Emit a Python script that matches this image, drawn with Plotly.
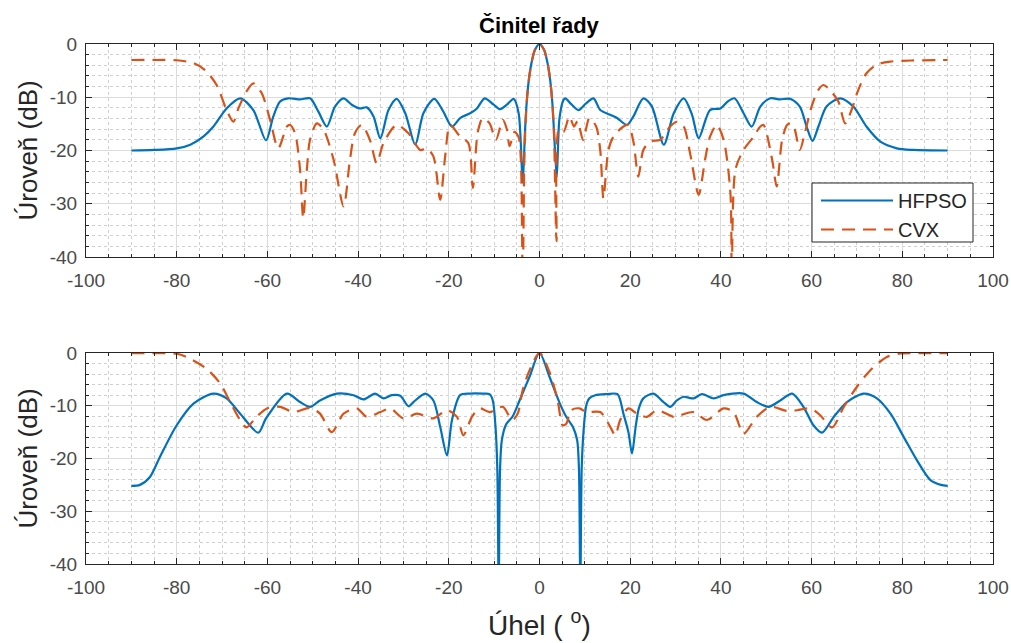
import plotly.graph_objects as go

# ---------------- data: array factor (dB) vs angle (deg) ----------------
# upper panel
top_hfpso_x = [-90, -85, -80, -77, -74, -71.9, -69, -66, -63.1, -60.3, -58.7, -57.2, -55.4, -52.8,
               -50.6, -48.75, -46.9, -45.1, -43.2, -41.4, -39.6, -38.1, -36.6, -35.1, -33.3, -31.5,
               -29.6, -27.4, -25.6, -23.2, -21.2, -19.3, -17.5, -15.3, -13.8, -12.1, -10.1, -8.7,
               -7.2, -5.7, -4.6, -3.7, -3.2, -2.8, -2.3, -1.7, -1, 0,
               1, 1.7, 2.3, 2.8, 3.2, 3.8, 4.4, 5.3, 5.7, 7, 8.6, 10.2, 11.9, 13.4, 15.6, 17.1,
               19.3, 20.7, 22.9, 24.8, 27.4, 29.6, 31.8, 33.6, 35.1, 37.6, 39.9, 41.5, 43, 45,
               46.8, 48.7, 50.9, 53, 55.3, 57.4, 58.9, 60.2, 61.5, 63.3, 66.3, 69.2, 72.1, 75.1,
               78.8, 82.4, 90]
top_hfpso_y = [-20, -19.9, -19.6, -18.9, -17.3, -15.5, -12.1, -10.2, -12.4, -18.1, -13.6, -10.8, -10.2, -10.4,
               -10.2, -12.7, -15.5, -11.75, -10.2, -11.4, -12.1, -11.9, -13.6, -17.7, -12.4, -10.3,
               -13, -18.9, -13, -10.3, -12.7, -15.5, -13.9, -13, -12.1, -10.2, -11.4, -12.25,
               -11.4, -10.3, -13, -26, -16.4, -10.7, -6.4, -3.3, -1.1, 0,
               -1.1, -3.3, -6.4, -10.7, -16.4, -25, -14, -10.5, -10.2, -11.3, -12.4, -11.2, -10.2, -12.4, -13.3, -13.9,
               -15.2, -13.6, -10.2, -11.75, -18.9, -13, -10.2, -13.2, -17.7, -12.4, -12.1, -10.8, -10.2, -13,
               -15.5, -11.75, -10.2, -10.4, -10.3, -11.75, -15.5, -18.2, -15.5, -11.75, -10.2, -11.75, -15.5, -18.3,
               -19.6, -19.9, -20]

top_cvx_x = [-90, -85, -80, -76.3, -73.75, -71.2, -69, -67.5, -66.4, -64.6, -63.1, -61.25, -59.4, -57.6,
             -55.7, -55, -53.9, -52.8, -52.1, -51.3, -50.6, -49.1, -47.6, -45.4, -43.2, -41.8, -40.7,
             -39.2, -37.4, -35.9, -34.4, -31.5, -28.9, -26.3, -24.9, -23.4, -21.9, -20.8, -19.7, -17.5,
             -15.7, -14.7, -13.6, -12.5, -11, -9.6, -8.1, -7.2, -6.6, -5.5, -4.6, -4.1, -3.7, -3.3,
             -2.8, -2.3, -1.7, -1, 0,
             1, 1.7, 2.3, 2.8, 3.2, 3.75, 4.3, 5.3, 6.6, 7.6, 8.4, 9.6, 11, 12.5, 13.4, 14.1, 15.2, 16.3,
             18.5, 19.6, 20.7, 21.8, 22.9, 24.4, 26.6, 28.8, 30.3, 31.8, 33.2, 35.1, 36.5, 37.6, 39.1,
             40.6, 42.1, 42.4, 43.2, 45, 47.2, 48.7, 49.4, 51.3, 52.3, 53.5, 54.6, 55.5, 56.3, 57.4,
             58.5, 60, 61.5, 62.6, 64, 65.9, 67.4, 68.8, 70.3, 72.1, 74.3, 77.3, 82, 90]
top_cvx_y = [-3, -3, -3.05, -3.6, -4.9, -7.7, -12.4, -14.6, -12.1, -8.9, -7.4, -9.25, -14.25, -19.6,
             -15.5, -15.2, -16.75, -23.6, -32.7, -23.6, -18, -14.9, -16.1, -21.75, -30.5, -21.75, -16.75,
             -15.2, -18, -22.4, -18.6, -15.2, -16.75, -19.9, -19.6, -21.1, -29.25, -21.1, -15.2, -17.4,
             -18.6, -27, -16.5, -13.9, -14.9, -18, -14.25, -16, -19.2, -16.5, -17.5, -22, -45, -20,
             -10.7, -6.4, -3.3, -1.1, 0,
             -1.1, -3.3, -6.4, -10.7, -17, -37, -16, -16.5, -13.6, -15.5, -14.5, -18, -13.9, -15.5, -20, -29, -19.9, -17.4,
             -15.5, -15.2, -18.3, -24.9, -19.9, -18.3, -18, -15.5, -14.6, -15.5, -20.5, -28.3, -21.75, -17.4, -15.2,
             -18, -28, -45, -23.6, -19.9, -17.4, -15.5, -15.2, -21.75, -26.75, -18, -15.2, -14.9, -16.1, -19.9,
             -16.75, -11.75, -8.6, -7.7, -8.6, -10.8, -14.9, -12.4, -8.6, -5.5, -3.9, -3.3, -3.1, -3]

# lower panel
bot_hfpso_x = [-90, -88.1, -85.9, -83.7, -80, -76.3, -71.9, -69, -66, -62, -60.3, -55.7, -52.8, -50.6,
               -48.4, -44.7, -41, -38.8, -36.25, -34.4, -32.6, -30.7, -28.9, -27.8, -25.2, -23.4, -21.9,
               -20.4, -19.3, -17.5, -15.3, -12.5, -11, -10.3, -9.7, -9.3, -9, -8.7, -8.3, -7.35, -5.9,
               -4.4, -2.2, 0,
               2.2, 4.4, 5.9, 7.35, 8.3, 8.7, 9, 9.3, 9.7, 10.3, 11, 12.3, 14.85, 17.2, 18.5, 19.6,
               20.4, 21.2, 21.9, 22.9, 25.1, 27.35, 28.8, 30.3, 31.8, 33, 34, 35.8, 38.4, 40.6, 45,
               47.9, 50.5, 53.1, 55.7, 58.2, 60.4, 62.3, 64.9, 67.8, 71.5, 74.4, 77.4, 80.3, 83.2,
               86.2, 88.5, 90]
bot_hfpso_y = [-25.2, -25, -23.5, -19.7, -13.7, -9.6, -7.7, -8.6, -11.5, -15.1, -12.4, -7.7, -9.3, -10.2,
               -9, -7.7, -8, -8.8, -7.7, -8.6, -8, -8.1, -10.1, -9.3, -7.7, -9, -14,
               -19.4, -12.7, -8, -7.7, -7.7, -7.8, -9, -14, -22, -45, -22, -16.5, -13.5, -12,
               -9, -4.5, 0,
               -4.5, -9.4, -12.1, -14, -16.5, -22, -45, -22, -15, -10, -8.6, -8, -7.8, -7.8, -11.5, -15,
               -19.05, -14, -10.5, -8.6, -7.7, -9.3, -10.2, -9, -8.3, -8.5, -8.6, -7.8, -8.6, -8, -7.7,
               -9.3, -10.2, -9, -7.7, -10.2, -13.7, -15.1, -12.1, -9.3, -7.7, -8.6, -11.5, -15.9, -20.3,
               -24.1, -25, -25.2]

bot_cvx_x = [-90, -85, -80, -77, -73.4, -70.4, -68.2, -66, -64.6, -62.4, -60.1, -57.2, -54.3, -50.6,
             -48.4, -45.8, -43.2, -40.3, -38.1, -35.1, -32.9, -30, -27, -23.4, -20.4, -18.2, -16.8,
             -14.9, -13.2, -11, -8.1, -6.6, -5.9, -4.8, -3.7, -2.2, 0,
             2.2, 4, 5.1, 5.9, 7, 8.8, 10.3, 13.4, 15.6, 16.7, 17.8, 19.6, 21.5, 23.7, 25.9, 29.6,
             31, 34, 36.9, 40.6, 42.8, 45, 47.9, 50.9, 54.6, 56.8, 59.7, 61.9, 64.5, 67.1, 70, 72.9,
             76.6, 79.6, 85, 90]
bot_cvx_y = [-0.05, -0.05, -0.15, -1.1, -3, -5.8, -9.3, -12.7, -14.1, -12.1, -10.5, -10.2, -11.2, -10.4,
             -11.5, -15, -11.5, -10.5, -12.1, -11.2, -10.5, -12.4, -11.5, -12.4, -10.85, -12.1, -15.6,
             -12.1, -10.5, -11.2, -10.2, -12.1, -12.7, -11.5, -7, -3.3, 0,
             -3.6, -9, -13.7, -13.4, -10.85, -10.5, -11.2, -11.2, -14, -15.6, -12.7, -10.5, -11.5, -12.1, -10.85, -12.1,
             -11.8, -11.2, -12.7, -10.5, -11.2, -15.3, -12.1, -10.2, -11, -10.85, -10.5, -11.8, -14.1, -10.2, -6.4, -3.3,
             -0.75, -0.1, -0.05, -0.05]

x_ticks = [-100, -80, -60, -40, -20, 0, 20, 40, 60, 80, 100]
y_ticks = [-40, -30, -20, -10, 0]

# ---------------- styling ----------------
BLUE = "#0072BD"
ORANGE = "#D95319"
AXC = "#262626"
FONT = "Liberation Sans, Arial, sans-serif"
W, H = 1011, 643

# plot-area pixel boxes (left, right, top, bottom)
L, R = 86, 993
TOP_T, TOP_B = 44, 257
BOT_T, BOT_B = 353, 564
# legend frame
LG_L, LG_R, LG_T, LG_B = 812, 973, 183, 242


def px_x(v):
    return v / W


def px_y(v):
    return 1 - v / H


fig = go.Figure()

fig.add_trace(go.Scatter(x=top_hfpso_x, y=top_hfpso_y, name="HFPSO", mode="lines",
                         line=dict(color=BLUE, width=2.2, shape="spline", smoothing=0.8),
                         xaxis="x", yaxis="y"))
fig.add_trace(go.Scatter(x=top_cvx_x, y=top_cvx_y, name="CVX", mode="lines",
                         line=dict(color=ORANGE, width=2.2, dash="13px,8px", shape="spline", smoothing=0.8),
                         xaxis="x", yaxis="y"))
fig.add_trace(go.Scatter(x=bot_hfpso_x, y=bot_hfpso_y, name="HFPSO", mode="lines", showlegend=False,
                         line=dict(color=BLUE, width=2.2, shape="spline", smoothing=0.8),
                         xaxis="x2", yaxis="y2"))
fig.add_trace(go.Scatter(x=bot_cvx_x, y=bot_cvx_y, name="CVX", mode="lines", showlegend=False,
                         line=dict(color=ORANGE, width=2.2, dash="13px,8px", shape="spline", smoothing=0.8),
                         xaxis="x2", yaxis="y2"))

common_x = dict(
    range=[-100, 100], tickvals=x_ticks, ticktext=[str(v) for v in x_ticks],
    showline=True, linecolor=AXC, linewidth=1, mirror="allticks",
    ticks="inside", ticklen=6, tickcolor=AXC, tickwidth=1,
    showgrid=True, gridcolor="#dcdcdc", gridwidth=1,
    zeroline=False, fixedrange=True, automargin=False, ticklabelstandoff=6,
    tickfont=dict(family=FONT, size=19, color="#4a4a4a"),
    minor=dict(dtick=5, tick0=0, showgrid=True, gridcolor="#cfcfcf", griddash="3px,3px",
               gridwidth=1, ticks="inside", ticklen=3, tickcolor=AXC),
)
common_y = dict(
    range=[-40, 0], tickvals=y_ticks, ticktext=[str(v) for v in y_ticks],
    showline=True, linecolor=AXC, linewidth=1, mirror="allticks",
    ticks="inside", ticklen=6, tickcolor=AXC, tickwidth=1,
    showgrid=True, gridcolor="#dcdcdc", gridwidth=1,
    zeroline=False, fixedrange=True, automargin=False, ticklabelstandoff=4,
    tickfont=dict(family=FONT, size=19, color="#4a4a4a"),
    minor=dict(dtick=2, tick0=0, showgrid=True, gridcolor="#cfcfcf", griddash="3px,3px",
               gridwidth=1, ticks="inside", ticklen=3, tickcolor=AXC),
)

fig.update_layout(
    width=W, height=H,
    margin=dict(l=0, r=0, t=0, b=0, autoexpand=False),
    paper_bgcolor="white", plot_bgcolor="white",
    font=dict(family=FONT, color=AXC),
    xaxis=dict(common_x, domain=[px_x(L), px_x(R)], anchor="y"),
    yaxis=dict(common_y, domain=[px_y(TOP_B), px_y(TOP_T)], anchor="x"),
    xaxis2=dict(common_x, domain=[px_x(L), px_x(R)], anchor="y2"),
    yaxis2=dict(common_y, domain=[px_y(BOT_B), px_y(BOT_T)], anchor="x2"),
    legend=dict(x=px_x(LG_L + 4), xanchor="left", y=px_y(LG_T - 2), yanchor="top",
                bgcolor="rgba(0,0,0,0)", borderwidth=0,
                font=dict(family=FONT, size=20, color=AXC),
                itemwidth=72, tracegroupgap=0),
    showlegend=True,
    # white framed box behind the legend entries
    shapes=[dict(type="rect", xref="paper", yref="paper",
                 x0=px_x(LG_L), x1=px_x(LG_R), y0=px_y(LG_B), y1=px_y(LG_T),
                 fillcolor="white", line=dict(color=AXC, width=1), layer="above")],
)

annotations = [
    dict(text="<b>Činitel řady</b>", x=px_x((L + R) / 2), y=px_y(25), xref="paper", yref="paper",
         xanchor="center", yanchor="middle", showarrow=False,
         font=dict(family=FONT, size=22, color="#000000")),
    dict(text="Úroveň (dB)", x=px_x(27), y=px_y((TOP_T + TOP_B) / 2), xref="paper", yref="paper",
         xanchor="center", yanchor="middle", showarrow=False, textangle=-90,
         font=dict(family=FONT, size=26, color=AXC)),
    dict(text="Úroveň (dB)", x=px_x(27), y=px_y((BOT_T + BOT_B) / 2), xref="paper", yref="paper",
         xanchor="center", yanchor="middle", showarrow=False, textangle=-90,
         font=dict(family=FONT, size=26, color=AXC)),
    dict(text="Úhel ( <sup>o</sup>)", x=px_x((L + R) / 2), y=px_y(623), xref="paper", yref="paper",
         xanchor="center", yanchor="middle", showarrow=False,
         font=dict(family=FONT, size=28, color=AXC)),
]
fig.update_layout(annotations=annotations)

fig.write_html("out.html")
